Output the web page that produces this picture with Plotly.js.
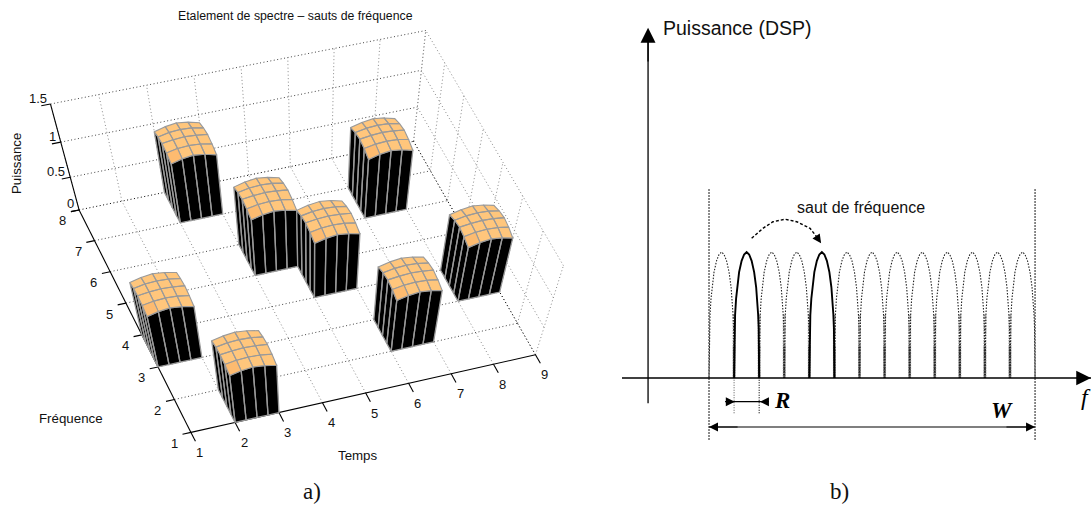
<!DOCTYPE html><html><head><meta charset="utf-8"><script src="https://cdn.plot.ly/plotly-3.0.1.min.js"></script>
<style>html,body{margin:0;background:#fff;overflow:hidden}</style></head><body><div id="g" style="width:1091px;height:505px"></div>
<script>
// ---- panel a) data ----
const tempsTicks=[1,2,3,4,5,6,7,8,9];
const freqTicks=[1,2,3,4,5,6,7,8];
const powerTicks=[0,0.5,1,1.5];
const barTemps=[1,2,3,4,5,6,7,8];
const barFreqs=[3,1,7,5,4,2,6,3];
const domeOffsets=[0,0.25,0.5,0.75,1];
const domeHeights=[
 [0.89,0.93,0.95,0.93,0.89],
 [0.93,0.96,0.97,0.96,0.93],
 [0.95,0.97,0.98,0.97,0.95],
 [0.93,0.96,0.97,0.96,0.93],
 [0.89,0.93,0.95,0.93,0.89]];
// ---- panel b) data ----
const lobeStarts=[0,1,2,3,4,5,6,7,8,9,10,11,12];
const activeLobes=[1,4];
const lobeZeros=[1,2,3,4,5,6,7,8,9,10,11,12];
const lobeU=[0,0.01,0.02,0.04,0.08,0.12,0.2,0.3,0.4,0.5,0.6,0.7,0.8,0.88,0.92,0.96,0.98,0.99,1];
const lobeP=[0,0.32,0.40,0.50,0.63,0.72,0.84,0.93,0.98,1,0.98,0.93,0.84,0.72,0.63,0.50,0.40,0.32,0];
const hopF=[1.70,2.15,2.55,3.03,3.50,4.03,4.29];
const hopP=[1.109,1.188,1.240,1.26,1.24,1.188,1.121];

// camera of panel a): homogeneous projection of (temps, frequence, puissance)
const CAM=[[45.45981,-15.66777,-23.91147,162.97698],[-8.48436,-30.85027,-82.16599,475.8505],[0.0037,0.00587,-0.0768,1]];
function pr(t,f,z){const w=CAM[2][0]*t+CAM[2][1]*f+CAM[2][2]*z+CAM[2][3];
 return [(CAM[0][0]*t+CAM[0][1]*f+CAM[0][2]*z+CAM[0][3])/w,(CAM[1][0]*t+CAM[1][1]*f+CAM[1][2]*z+CAM[1][3])/w];}
function path3(list){const x=[],y=[];list.forEach(poly=>{poly.forEach(p=>{const q=pr(p[0],p[1],p[2]);x.push(q[0]);y.push(q[1]);});x.push(null);y.push(null);});return{x,y};}
function lineTrace(list,color,width,dash){const d=path3(list);return{type:'scatter',mode:'lines',x:d.x,y:d.y,xaxis:'x',yaxis:'y',hoverinfo:'skip',line:{color,width,dash:dash||'solid'}};}

const traces=[];
const tLast=tempsTicks[tempsTicks.length-1],tFirst=tempsTicks[0],fLast=freqTicks[freqTicks.length-1],fFirst=freqTicks[0],zTop=powerTicks[powerTicks.length-1];
const gridLight=[],gridDark=[],gridBlack=[];
tempsTicks.slice(1).forEach(t=>gridLight.push([[t,fFirst,0],[t,fLast,0]]));
freqTicks.slice(1,-1).forEach(f=>gridDark.push([[tFirst,f,0],[tLast,f,0]]));
tempsTicks.forEach(t=>gridLight.push([[t,fLast,0],[t,fLast,zTop]]));
freqTicks.forEach(f=>gridLight.push([[tLast,f,0],[tLast,f,zTop]]));
powerTicks.slice(1).forEach(z=>{gridDark.push([[tFirst,fLast,z],[tLast,fLast,z]]);gridLight.push([[tLast,fFirst,z],[tLast,fLast,z]]);});
gridBlack.push([[tFirst,fLast,0],[tLast,fLast,0]],[[tLast,fFirst,0],[tLast,fLast,0]]);
traces.push(lineTrace(gridLight,'#8a8a8a',1,'1px,2.5px'));
traces.push(lineTrace(gridDark,'#444',1,'1px,2.5px'));
traces.push(lineTrace(gridBlack,'#000',1,'1px,2.5px'));
const axes=[[[tFirst,fFirst,0],[tLast,fFirst,0]],[[tFirst,fFirst,0],[tFirst,fLast,0]],[[tFirst,fLast,0],[tFirst,fLast,zTop]]];
tempsTicks.forEach(t=>axes.push([[t,fFirst,0],[t,fFirst-0.27,0]]));
freqTicks.forEach(f=>axes.push([[tFirst,f,0],[tFirst-0.19,f,0]]));
powerTicks.forEach(z=>axes.push([[tFirst,fLast,z],[tFirst-0.19,fLast,z]]));
traces.push(lineTrace(axes,'#000',1.1));

const order=barTemps.map((t,i)=>i).sort((a,b)=>barFreqs[b]-barFreqs[a]||barTemps[a]-barTemps[b]);
order.forEach(i=>{
 const t0=barTemps[i],f0=barFreqs[i],o=domeOffsets,n=o.length;
 const walls=[],cells=[],low=[];
 for(let k=0;k<n-1;k++){
  walls.push([[t0,f0+o[k],0],[t0,f0+o[k+1],0],[t0,f0+o[k+1],domeHeights[0][k+1]],[t0,f0+o[k],domeHeights[0][k]],[t0,f0+o[k],0]]);
 }
 for(let k=0;k<n-1;k++){
  walls.push([[t0+o[k],f0,0],[t0+o[k+1],f0,0],[t0+o[k+1],f0,domeHeights[k+1][0]],[t0+o[k],f0,domeHeights[k][0]],[t0+o[k],f0,0]]);
 }
 for(let a=0;a<n-1;a++)for(let b=0;b<n-1;b++){
  const poly=[[t0+o[a],f0+o[b],domeHeights[a][b]],[t0+o[a+1],f0+o[b],domeHeights[a+1][b]],[t0+o[a+1],f0+o[b+1],domeHeights[a+1][b+1]],[t0+o[a],f0+o[b+1],domeHeights[a][b+1]],[t0+o[a],f0+o[b],domeHeights[a][b]]];
  (a===0&&b===0?low:cells).push(poly);
 }
 const w=path3(walls);traces.push({type:'scatter',mode:'lines',x:w.x,y:w.y,xaxis:'x',yaxis:'y',hoverinfo:'skip',fill:'toself',fillcolor:'#000',line:{color:'#999',width:1.3}});
 const c=path3(cells);traces.push({type:'scatter',mode:'lines',x:c.x,y:c.y,xaxis:'x',yaxis:'y',hoverinfo:'skip',fill:'toself',fillcolor:'#ffc67c',line:{color:'#9a9a9a',width:1.1}});
 const l=path3(low);traces.push({type:'scatter',mode:'lines',x:l.x,y:l.y,xaxis:'x',yaxis:'y',hoverinfo:'skip',fill:'toself',fillcolor:'#fdbb70',line:{color:'#9a9a9a',width:1.1}});
});

// panel b)
function b(x,y,color,width,dash){traces.push({type:'scatter',mode:'lines',x,y,xaxis:'x2',yaxis:'y2',hoverinfo:'skip',line:{color,width,dash:dash||'solid'}});}
const zx=[],zy=[],zx2=[],zy2=[];lobeZeros.forEach(z=>{zx.push(z,z,null);zy.push(0.5,0,null);zx2.push(z,z,null);zy2.push(0.25,0,null);});
b(zx,zy,'#999',3,'1.5px,1px');
b(zx2,zy2,'#444',2.4,'1.5px,1px');
const dottedLobes=lobeStarts.filter(s=>!activeLobes.includes(s));
const dx=[],dy=[];dottedLobes.forEach(s=>{lobeU.forEach((u,i)=>{dx.push(s+u);dy.push(lobeP[i]);});dx.push(null);dy.push(null);});
b(dx,dy,'#222',1.1,'1.5px,1.5px');
activeLobes.forEach(s=>b(lobeU.map(u=>s+u),lobeP,'#000',1.9));
b([0,0],[-0.49,1.5],'#000',1.2,'1.5px,1.5px');
b([13,13],[-0.49,1.5],'#000',1.2,'1.5px,1.5px');
b([1,1],[-0.28,0],'#666',1.1,'1px,1.5px');
b([2,2],[-0.28,0],'#000',1.1,'1px,1.5px');
b([-3.47,15.23],[0,0],'#000',1.4);
b([-2.43,-2.43],[-0.2,2.7],'#000',1.3);
b([0.64,2.39],[-0.188,-0.188],'#000',1.2);
b([0,13],[-0.389,-0.389],'#000',1.2);
b(hopF,hopP,'#000',1.4,'3px,2px');

const FONT='Liberation Sans, Arial, sans-serif',SERIF='Liberation Serif, serif';
const ann=[];
function txt(xref,yref,x,y,text,size,extra){ann.push(Object.assign({xref,yref,x,y,text,showarrow:false,xanchor:'center',yanchor:'middle',font:{family:FONT,size,color:'#111'}},extra||{}));}
tempsTicks.forEach(t=>{const p=pr(t,fFirst,0);txt('x','y',p[0],p[1],String(t),13,{xshift:9,yshift:-20});});
freqTicks.forEach(f=>{const p=pr(tFirst,f,0);txt('x','y',p[0],p[1],String(f),13,{xshift:-16.5,yshift:-11});});
powerTicks.forEach(z=>{const p=pr(tFirst,fLast,z);txt('x','y',p[0],p[1],String(z),13,{xanchor:'right',xshift:z===1.5?-1:-3,yshift:z===0?6:6});});
txt('x','y',295,16,'Etalement de spectre – sauts de fréquence',12.3);
txt('x','y',16,164,'Puissance',13.3,{textangle:-90});
txt('x','y',70.5,418,'Fréquence',13.3);
txt('x','y',357.5,455,'Temps',13.3);
txt('x','y',311.5,491,'a)',23,{font:{family:SERIF,size:23,color:'#111'}});
txt('x','y',839,491,'b)',23,{font:{family:SERIF,size:23,color:'#111'}});
txt('x2','y2',-1.93,2.78,'Puissance (DSP)',19.5,{xanchor:'left'});
txt('x2','y2',6.06,1.357,'saut de fréquence',16);
txt('x2','y2',2.91,-0.18,'<b><i>R</i></b>',23,{font:{family:SERIF,size:23,color:'#000'}});
txt('x2','y2',11.68,-0.26,'<b><i>W</i></b>',23,{font:{family:SERIF,size:23,color:'#000'}});
txt('x2','y2',15.03,-0.15,'<i>f</i>',24,{font:{family:SERIF,size:24,color:'#000'}});
function arrow(x,y,ax,ay,size,width){ann.push({xref:'x2',yref:'y2',axref:'x2',ayref:'y2',x,y,ax,ay,text:'',showarrow:true,arrowhead:2,arrowsize:size,arrowwidth:width,arrowcolor:'#000',standoff:0,startstandoff:0});}
arrow(15.23,0,14.6,0,2.1,1.4);
arrow(-2.43,2.78,-2.43,2.5,2.3,1.3);
arrow(1.03,-0.188,0.64,-0.188,1.5,1.2);
arrow(2.03,-0.188,2.39,-0.188,1.5,1.2);
arrow(0,-0.389,1.2,-0.389,1.5,1.2);
arrow(13,-0.389,11.8,-0.389,1.5,1.2);
arrow(4.47,1.069,4.29,1.121,1.6,1.1);

Plotly.newPlot('g',traces,{width:1091,height:505,margin:{l:0,r:0,t:0,b:0,pad:0},showlegend:false,paper_bgcolor:'#fff',plot_bgcolor:'rgba(0,0,0,0)',annotations:ann,
 xaxis:{range:[0,1091],domain:[0,1],visible:false},yaxis:{range:[505,0],domain:[0,1],visible:false},
 xaxis2:{range:[-3.549,15.231],domain:[620/1091,1],anchor:'y2',visible:false},yaxis2:{range:[-1.008,3],domain:[0,1],anchor:'x2',visible:false}},{staticPlot:true});
</script></body></html>
